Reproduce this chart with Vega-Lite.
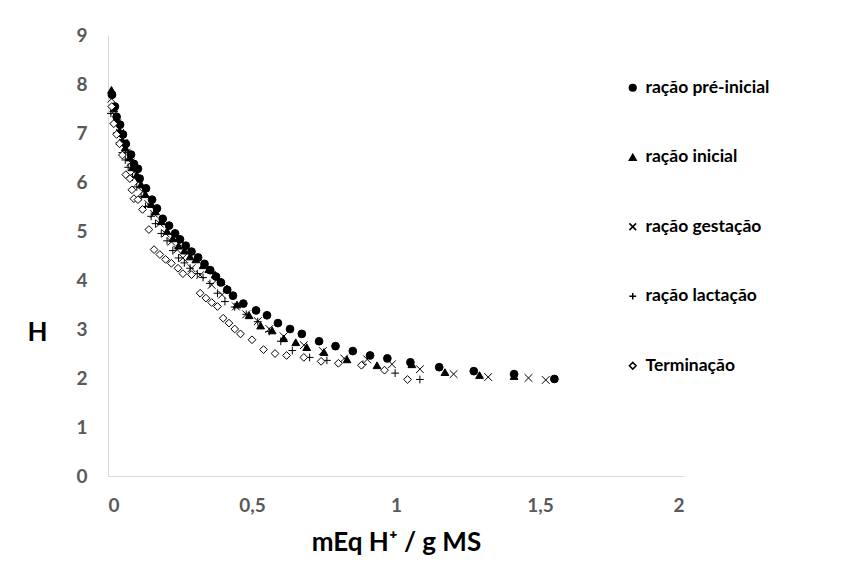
{
  "$schema": "https://vega.github.io/schema/vega-lite/v6.json",
  "autosize": {"type": "none"},
  "padding": {"left": 108, "top": 35, "right": 176, "bottom": 101},
  "width": 576,
  "height": 441,
  "background": "white",
  "config": {"view": {"stroke": null}, "font": "Lato"},
  "data": {"values": [
    {"s":"ração pré-inicial","x":0.014,"y":7.78},{"s":"ração pré-inicial","x":0.024,"y":7.54},{"s":"ração pré-inicial","x":0.03,"y":7.33},{"s":"ração pré-inicial","x":0.042,"y":7.17},{"s":"ração pré-inicial","x":0.052,"y":6.97},{"s":"ração pré-inicial","x":0.062,"y":6.78},{"s":"ração pré-inicial","x":0.08,"y":6.56},{"s":"ração pré-inicial","x":0.09,"y":6.37},{"s":"ração pré-inicial","x":0.104,"y":6.27},{"s":"ração pré-inicial","x":0.11,"y":6.07},{"s":"ração pré-inicial","x":0.132,"y":5.87},{"s":"ração pré-inicial","x":0.153,"y":5.64},{"s":"ração pré-inicial","x":0.17,"y":5.46},{"s":"ração pré-inicial","x":0.19,"y":5.25},{"s":"ração pré-inicial","x":0.212,"y":5.11},{"s":"ração pré-inicial","x":0.233,"y":4.95},{"s":"ração pré-inicial","x":0.25,"y":4.83},{"s":"ração pré-inicial","x":0.27,"y":4.7},{"s":"ração pré-inicial","x":0.29,"y":4.58},{"s":"ração pré-inicial","x":0.313,"y":4.46},{"s":"ração pré-inicial","x":0.335,"y":4.33},{"s":"ração pré-inicial","x":0.355,"y":4.2},{"s":"ração pré-inicial","x":0.375,"y":4.07},{"s":"ração pré-inicial","x":0.392,"y":3.95},{"s":"ração pré-inicial","x":0.414,"y":3.8},{"s":"ração pré-inicial","x":0.434,"y":3.68},{"s":"ração pré-inicial","x":0.47,"y":3.52},{"s":"ração pré-inicial","x":0.514,"y":3.38},{"s":"ração pré-inicial","x":0.552,"y":3.28},{"s":"ração pré-inicial","x":0.59,"y":3.12},{"s":"ração pré-inicial","x":0.632,"y":3.0},{"s":"ração pré-inicial","x":0.673,"y":2.9},{"s":"ração pré-inicial","x":0.733,"y":2.75},{"s":"ração pré-inicial","x":0.79,"y":2.65},{"s":"ração pré-inicial","x":0.85,"y":2.55},{"s":"ração pré-inicial","x":0.91,"y":2.46},{"s":"ração pré-inicial","x":0.97,"y":2.4},{"s":"ração pré-inicial","x":1.05,"y":2.32},{"s":"ração pré-inicial","x":1.15,"y":2.22},{"s":"ração pré-inicial","x":1.27,"y":2.14},{"s":"ração pré-inicial","x":1.41,"y":2.08},{"s":"ração pré-inicial","x":1.55,"y":1.98},
    {"s":"ração inicial","x":0.012,"y":7.88},{"s":"ração inicial","x":0.02,"y":7.5},{"s":"ração inicial","x":0.03,"y":7.25},{"s":"ração inicial","x":0.04,"y":7.05},{"s":"ração inicial","x":0.05,"y":6.85},{"s":"ração inicial","x":0.06,"y":6.7},{"s":"ração inicial","x":0.075,"y":6.5},{"s":"ração inicial","x":0.085,"y":6.3},{"s":"ração inicial","x":0.1,"y":6.15},{"s":"ração inicial","x":0.115,"y":5.95},{"s":"ração inicial","x":0.13,"y":5.75},{"s":"ração inicial","x":0.15,"y":5.55},{"s":"ração inicial","x":0.165,"y":5.4},{"s":"ração inicial","x":0.185,"y":5.2},{"s":"ração inicial","x":0.205,"y":5.0},{"s":"ração inicial","x":0.225,"y":4.85},{"s":"ração inicial","x":0.245,"y":4.7},{"s":"ração inicial","x":0.265,"y":4.6},{"s":"ração inicial","x":0.285,"y":4.48},{"s":"ração inicial","x":0.305,"y":4.42},{"s":"ração inicial","x":0.33,"y":4.3},{"s":"ração inicial","x":0.35,"y":4.22},{"s":"ração inicial","x":0.372,"y":4.11},{"s":"ração inicial","x":0.393,"y":3.97},{"s":"ração inicial","x":0.413,"y":3.83},{"s":"ração inicial","x":0.448,"y":3.5},{"s":"ração inicial","x":0.49,"y":3.28},{"s":"ração inicial","x":0.53,"y":3.07},{"s":"ração inicial","x":0.57,"y":2.97},{"s":"ração inicial","x":0.61,"y":2.81},{"s":"ração inicial","x":0.652,"y":2.73},{"s":"ração inicial","x":0.69,"y":2.63},{"s":"ração inicial","x":0.75,"y":2.53},{"s":"ração inicial","x":0.83,"y":2.38},{"s":"ração inicial","x":0.934,"y":2.26},{"s":"ração inicial","x":1.055,"y":2.28},{"s":"ração inicial","x":1.17,"y":2.12},{"s":"ração inicial","x":1.29,"y":2.06},{"s":"ração inicial","x":1.41,"y":2.04},
    {"s":"ração gestação","x":0.012,"y":7.7},{"s":"ração gestação","x":0.022,"y":7.45},{"s":"ração gestação","x":0.032,"y":7.2},{"s":"ração gestação","x":0.042,"y":7.0},{"s":"ração gestação","x":0.055,"y":6.8},{"s":"ração gestação","x":0.065,"y":6.6},{"s":"ração gestação","x":0.078,"y":6.4},{"s":"ração gestação","x":0.09,"y":6.2},{"s":"ração gestação","x":0.105,"y":6.0},{"s":"ração gestação","x":0.12,"y":5.8},{"s":"ração gestação","x":0.14,"y":5.55},{"s":"ração gestação","x":0.16,"y":5.35},{"s":"ração gestação","x":0.18,"y":5.15},{"s":"ração gestação","x":0.2,"y":4.95},{"s":"ração gestação","x":0.22,"y":4.78},{"s":"ração gestação","x":0.24,"y":4.62},{"s":"ração gestação","x":0.26,"y":4.45},{"s":"ração gestação","x":0.29,"y":4.24},{"s":"ração gestação","x":0.32,"y":4.1},{"s":"ração gestação","x":0.36,"y":3.9},{"s":"ração gestação","x":0.396,"y":3.7},{"s":"ração gestação","x":0.444,"y":3.46},{"s":"ração gestação","x":0.48,"y":3.3},{"s":"ração gestação","x":0.52,"y":3.16},{"s":"ração gestação","x":0.56,"y":3.0},{"s":"ração gestação","x":0.61,"y":2.85},{"s":"ração gestação","x":0.68,"y":2.67},{"s":"ração gestação","x":0.746,"y":2.55},{"s":"ração gestação","x":0.82,"y":2.4},{"s":"ração gestação","x":0.9,"y":2.38},{"s":"ração gestação","x":0.986,"y":2.28},{"s":"ração gestação","x":1.083,"y":2.18},{"s":"ração gestação","x":1.2,"y":2.08},{"s":"ração gestação","x":1.32,"y":2.02},{"s":"ração gestação","x":1.46,"y":2.0},{"s":"ração gestação","x":1.52,"y":1.96},
    {"s":"ração lactação","x":0.01,"y":7.4},{"s":"ração lactação","x":0.02,"y":7.2},{"s":"ração lactação","x":0.03,"y":7.0},{"s":"ração lactação","x":0.04,"y":6.8},{"s":"ração lactação","x":0.05,"y":6.6},{"s":"ração lactação","x":0.06,"y":6.45},{"s":"ração lactação","x":0.07,"y":6.3},{"s":"ração lactação","x":0.085,"y":6.1},{"s":"ração lactação","x":0.1,"y":5.9},{"s":"ração lactação","x":0.115,"y":5.7},{"s":"ração lactação","x":0.13,"y":5.5},{"s":"ração lactação","x":0.15,"y":5.3},{"s":"ração lactação","x":0.165,"y":5.15},{"s":"ração lactação","x":0.185,"y":4.95},{"s":"ração lactação","x":0.205,"y":4.8},{"s":"ração lactação","x":0.225,"y":4.6},{"s":"ração lactação","x":0.245,"y":4.45},{"s":"ração lactação","x":0.265,"y":4.35},{"s":"ração lactação","x":0.285,"y":4.24},{"s":"ração lactação","x":0.31,"y":4.13},{"s":"ração lactação","x":0.33,"y":4.05},{"s":"ração lactação","x":0.354,"y":3.93},{"s":"ração lactação","x":0.38,"y":3.73},{"s":"ração lactação","x":0.406,"y":3.56},{"s":"ração lactação","x":0.44,"y":3.45},{"s":"ração lactação","x":0.48,"y":3.3},{"s":"ração lactação","x":0.52,"y":3.15},{"s":"ração lactação","x":0.56,"y":2.95},{"s":"ração lactação","x":0.6,"y":2.75},{"s":"ração lactação","x":0.64,"y":2.56},{"s":"ração lactação","x":0.7,"y":2.42},{"s":"ração lactação","x":0.76,"y":2.36},{"s":"ração lactação","x":0.885,"y":2.28},{"s":"ração lactação","x":0.997,"y":2.1},{"s":"ração lactação","x":1.083,"y":1.97},
    {"s":"Terminação","x":0.013,"y":7.54},{"s":"Terminação","x":0.02,"y":7.19},{"s":"Terminação","x":0.03,"y":6.97},{"s":"Terminação","x":0.04,"y":6.78},{"s":"Terminação","x":0.05,"y":6.55},{"s":"Terminação","x":0.062,"y":6.15},{"s":"Terminação","x":0.076,"y":6.07},{"s":"Terminação","x":0.083,"y":5.84},{"s":"Terminação","x":0.09,"y":5.66},{"s":"Terminação","x":0.104,"y":5.64},{"s":"Terminação","x":0.12,"y":5.44},{"s":"Terminação","x":0.142,"y":5.03},{"s":"Terminação","x":0.16,"y":4.62},{"s":"Terminação","x":0.18,"y":4.52},{"s":"Terminação","x":0.2,"y":4.42},{"s":"Terminação","x":0.22,"y":4.34},{"s":"Terminação","x":0.243,"y":4.24},{"s":"Terminação","x":0.26,"y":4.13},{"s":"Terminação","x":0.29,"y":4.11},{"s":"Terminação","x":0.32,"y":3.73},{"s":"Terminação","x":0.34,"y":3.63},{"s":"Terminação","x":0.36,"y":3.54},{"s":"Terminação","x":0.38,"y":3.46},{"s":"Terminação","x":0.4,"y":3.22},{"s":"Terminação","x":0.42,"y":3.12},{"s":"Terminação","x":0.44,"y":3.0},{"s":"Terminação","x":0.46,"y":2.9},{"s":"Terminação","x":0.5,"y":2.78},{"s":"Terminação","x":0.54,"y":2.58},{"s":"Terminação","x":0.58,"y":2.5},{"s":"Terminação","x":0.62,"y":2.46},{"s":"Terminação","x":0.68,"y":2.42},{"s":"Terminação","x":0.74,"y":2.34},{"s":"Terminação","x":0.8,"y":2.3},{"s":"Terminação","x":0.88,"y":2.26},{"s":"Terminação","x":0.96,"y":2.16},{"s":"Terminação","x":1.04,"y":1.97}
  ]},
  "mark": {"type": "point", "filled": true, "stroke": "black", "strokeWidth": 1, "opacity": 1, "size": 60},
  "encoding": {
    "x": {"field": "x", "type": "quantitative",
      "scale": {"domain": [0, 2], "nice": false, "zero": true},
      "axis": {"values": [0, 0.5, 1, 1.5, 2], "labelExpr": "replace(toString(datum.value), '.', ',')",
        "title": "mEq H⁺ / g MS", "grid": false, "ticks": false, "domainColor": "#d9d9d9", "domainWidth": 1,
        "labelFont": "Lato", "labelFontSize": 19, "labelFontWeight": "bold", "labelColor": "#595959", "labelPadding": 20,
        "titleFont": "Lato", "titleFontSize": 26, "titleFontWeight": "bold", "titleColor": "black", "titlePadding": 14}},
    "y": {"field": "y", "type": "quantitative",
      "scale": {"domain": [0, 9], "nice": false},
      "axis": {"values": [0,1,2,3,4,5,6,7,8,9], "title": "H", "grid": false, "ticks": false, "domainColor": "#d9d9d9", "domainWidth": 1,
        "labelFont": "Lato", "labelFontSize": 19, "labelFontWeight": "bold", "labelColor": "#595959", "labelPadding": 21,
        "titleFont": "Lato", "titleFontSize": 26, "titleFontWeight": "bold", "titleColor": "black",
        "titleAngle": 0, "titleX": -71, "titleY": 297, "titleAlign": "center", "titleBaseline": "middle"}},
    "shape": {"field": "s", "type": "nominal",
      "scale": {"domain": ["ração pré-inicial", "ração inicial", "ração gestação", "ração lactação", "Terminação"],
        "range": ["circle", "triangle-up", "M-1,-1L1,1M1,-1L-1,1", "M-1,0L1,0M0,-1L0,1", "diamond"]},
      "legend": {"title": null, "orient": "none", "legendX": 516, "legendY": 44, "padding": 0,
        "rowPadding": 50.5, "symbolSize": 45, "labelOffset": 4,
        "labelFont": "Lato", "labelFontSize": 17.5, "labelFontWeight": "bold", "labelColor": "black",
        "encode": {"symbols": {"update": {"stroke": {"value": "black"}, "strokeWidth": {"value": 1}}}}}},
    "fill": {"field": "s", "type": "nominal",
      "scale": {"domain": ["ração pré-inicial", "ração inicial", "ração gestação", "ração lactação", "Terminação"],
        "range": ["black", "black", "transparent", "transparent", "white"]},
      "legend": {"title": null, "orient": "none", "legendX": 516, "legendY": 44, "padding": 0,
        "rowPadding": 50.5, "symbolSize": 45, "labelOffset": 4,
        "labelFont": "Lato", "labelFontSize": 17.5, "labelFontWeight": "bold", "labelColor": "black",
        "encode": {"symbols": {"update": {"stroke": {"value": "black"}, "strokeWidth": {"value": 1}}}}}}
  }
}
